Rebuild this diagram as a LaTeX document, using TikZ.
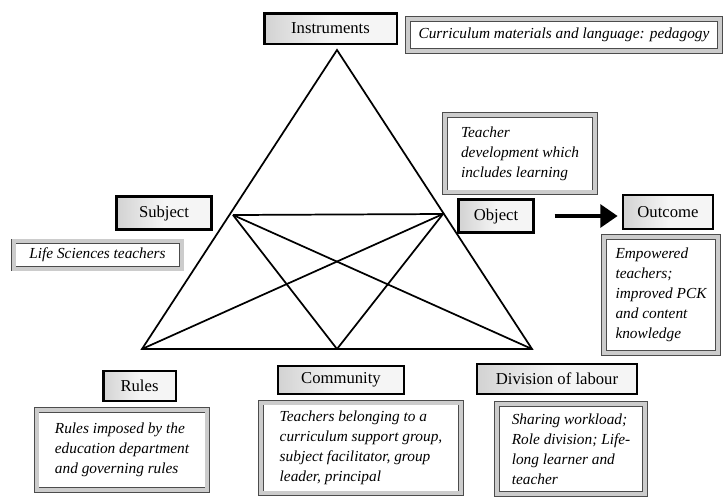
\documentclass[tikz,border=0pt]{standalone}
\usepackage{fontspec}
\setmainfont{Liberation Serif}
\usetikzlibrary{arrows.meta}

\tikzset{
    head/.style={draw = black, line width = 2pt, left color = gray!35, right color = gray!8,
        middle color = gray!8, font = \fontsize{12.5}{15}\selectfont, inner sep = 2pt},
    note/.style={draw = black!70, line width = 0.5pt, double = gray!40, double distance = 3pt,
        fill = white, font = \fontsize{11.5}{15}\selectfont\itshape, align = left,
        inner xsep = 6pt, inner ysep = 4pt},
    side/.style={line width = 1.3pt},
    flow/.style={line width = 3pt, -{Triangle[length = 13pt, width = 17pt]},
        shorten < = 15pt, shorten > = 3pt}
}

\begin{document}
\begin{tikzpicture}[x = 0.75pt, y = -0.75pt]
            \useasboundingbox (0, 0) rectangle (725, 497);
            %\draw[lightgray] (0, 0) grid[step = 50] (725, 497);
            \coordinate (top) at (337, 50);
            \coordinate (bl) at (142, 349);
            \coordinate (br) at (532, 349);
            \coordinate (lm) at (233, 215);
            \coordinate (rm) at (443, 214);
            \coordinate (bm) at (337, 349);

            \draw[side] (top) -- (bl) -- (br) -- cycle;
            \draw[side] (lm) -- (rm);
            \draw[side] (lm) -- (bm);
            \draw[side] (lm) -- (br);
            \draw[side] (rm) -- (bl);
            \draw[side] (rm) -- (bm);

            \node[head, minimum width = 99.5pt, minimum height = 23pt] (instr) at (330.5, 28.5) {Instruments};
            \node[note, minimum width = 234pt, minimum height = 24pt] (curric) at (564, 35) {Curriculum materials and language: pedagogy};
            \node[note, minimum width = 112.5pt, minimum height = 58pt] (teachdev) at (520, 153.5) {Teacher\\ development which\\ includes learning};

            \node[head, minimum width = 71pt, minimum height = 24.5pt] (subject) at (164, 213) {Subject};
            \node[note, minimum width = 126pt, minimum height = 20.5pt] (lifesci) at (97.5, 255) {Life Sciences teachers};

            \node[head, minimum width = 56pt, minimum height = 24.5pt] (object) at (496, 216) {Object};
            \node[head, minimum width = 67.5pt, minimum height = 25.5pt] (outcome) at (668, 212) {Outcome};
            \node[note, minimum width = 85.5pt, minimum height = 87pt] (empower) at (661, 295) {Empowered\\ teachers;\\ improved PCK\\ and content\\ knowledge};
            \draw[flow] (object.east) -- (object.east -| outcome.west);

            \node[head, minimum width = 54.5pt, minimum height = 22.5pt] (rules) at (139.5, 386) {Rules};
            \node[note, minimum width = 128pt, minimum height = 60pt] (rulesdesc) at (122, 450) {Rules imposed by the\\ education department\\ and governing rules};

            \node[head, minimum width = 94.5pt, minimum height = 21pt] (community) at (341, 380) {Community};
            \node[note, minimum width = 150pt, minimum height = 68pt] (commdesc) at (361, 448) {Teachers belonging to a\\ curriculum support group,\\ subject facilitator, group\\ leader, principal};

            \node[head, minimum width = 120pt, minimum height = 22.5pt] (division) at (557, 379) {Division of labour};
            \node[note, minimum width = 111pt, minimum height = 67.5pt] (divdesc) at (571, 449) {Sharing workload;\\ Role division; Life-\\ long learner and\\ teacher};
        \end{tikzpicture}
\end{document}
